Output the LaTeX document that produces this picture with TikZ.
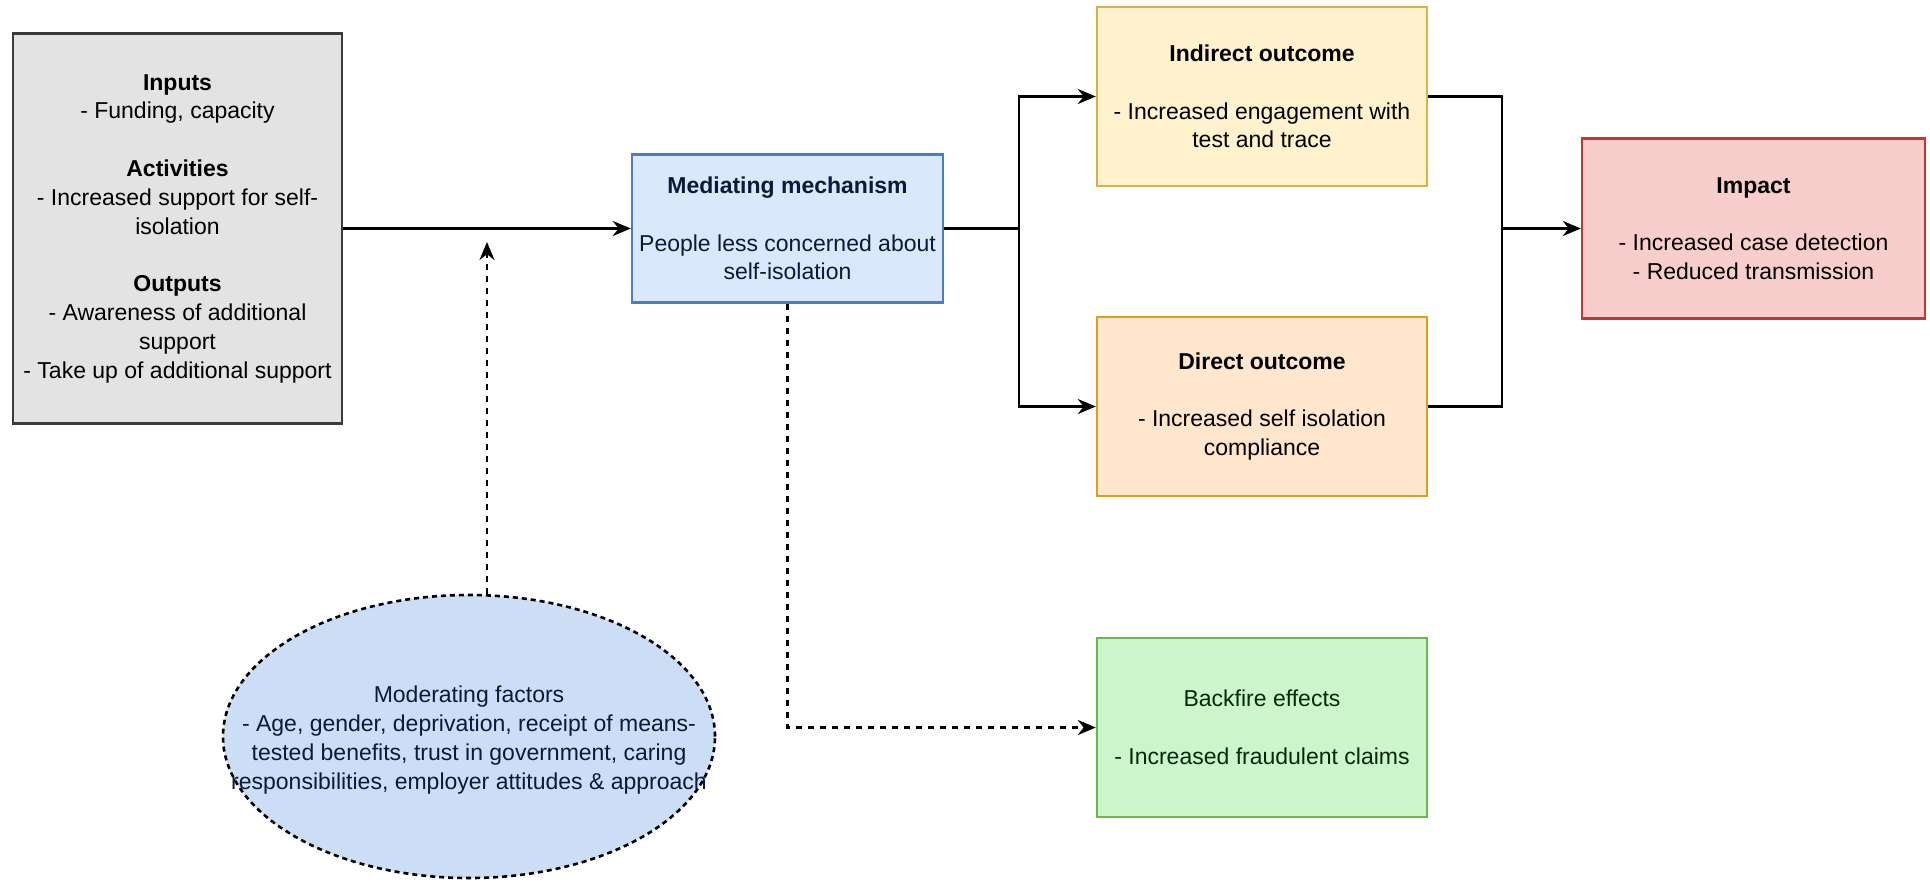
\documentclass[tikz,border=0pt]{standalone}
\usepackage{fontspec}
\setmainfont{Liberation Sans}
\usetikzlibrary{arrows.meta,shapes.geometric}
\definecolor{grayfill}{HTML}{E3E3E3}
\definecolor{graydraw}{HTML}{3A3A3A}
\definecolor{medfill}{HTML}{DAE8FC}
\definecolor{meddraw}{HTML}{4A7EC0}
\definecolor{medtext}{HTML}{0A1A38}
\definecolor{indfill}{HTML}{FFF2CC}
\definecolor{inddraw}{HTML}{D6B24A}
\definecolor{dirfill}{HTML}{FFE6CC}
\definecolor{dirdraw}{HTML}{D9A020}
\definecolor{impfill}{HTML}{F8CECC}
\definecolor{impdraw}{HTML}{CC3333}
\definecolor{backfill}{HTML}{CCF5CC}
\definecolor{backdraw}{HTML}{66BB44}
\definecolor{backtext}{HTML}{0A260A}
\definecolor{ellfill}{HTML}{CCDEF6}
\begin{document}
\begin{tikzpicture}[x=0.5pt,y=-0.5pt,
  font=\fontsize{11.5}{14.4}\selectfont,
  box/.style={draw, line width=1.2pt, rectangle, align=center, inner sep=0pt},
  conn/.style={line width=1.3pt, black},
  arr/.style={conn, -{Stealth[length=9pt,width=7.5pt]}},
  dasharr/.style={line width=1.4pt, black, dash pattern=on 3pt off 3pt, -{Stealth[length=9pt,width=7.5pt]}}
]
\fill[white] (0,0) rectangle (1930,884);
\useasboundingbox (0,0) rectangle (1930,884);

\node[box, fill=grayfill, draw=graydraw, minimum width=164.5pt, minimum height=195pt] (inp) at (177.5,228.5)
 {\textbf{Inputs}\\- Funding, capacity\\[14.4pt]\textbf{Activities}\\- Increased support for self-\\isolation\\[14.4pt]\textbf{Outputs}\\- Awareness of additional\\support\\- Take up of additional support};

\node[box, fill=medfill, draw=meddraw, text=medtext, minimum width=155.5pt, minimum height=74pt] (med) at (787.5,228.5)
 {\textbf{Mediating mechanism}\\[14.4pt]People less concerned about\\self-isolation};

\node[box, fill=indfill, draw=inddraw, minimum width=165pt, minimum height=89.5pt] (ind) at (1262,96.5)
 {\textbf{Indirect outcome}\\[14.4pt]- Increased engagement with\\test and trace};

\node[box, fill=dirfill, draw=dirdraw, minimum width=165pt, minimum height=89.5pt] (dir) at (1262,406.5)
 {\textbf{Direct outcome}\\[14.4pt]- Increased self isolation\\compliance};

\node[box, fill=impfill, draw=impdraw, minimum width=171.5pt, minimum height=90pt] (imp) at (1753.5,228.5)
 {\textbf{Impact}\\[14.4pt]- Increased case detection\\- Reduced transmission};

\node[box, fill=backfill, draw=backdraw, text=backtext, minimum width=165pt, minimum height=89.5pt] (back) at (1262,727.5)
 {Backfire effects\\[14.4pt]- Increased fraudulent claims};

\node[ellipse, draw=black, fill=ellfill, line width=1.3pt, dash pattern=on 2.5pt off 2pt, minimum width=246pt, minimum height=141.5pt, inner sep=0pt] (mf) at (469,736.5) {};
\node[align=center, text=medtext, inner sep=0pt] (mft) at (469,740)
 {Moderating factors\\- Age, gender, deprivation, receipt of means-\\tested benefits, trust in government, caring\\responsibilities, employer attitudes \& approach};

% connectors
\draw[arr] (inp.east) -- (med.west);
\coordinate (mtip) at (487,242);
\draw[dasharr] (mf.north -| mtip) -- (mtip);

\coordinate (split) at (1019,228.5);
\draw[conn] (med.east) -- (split);
\draw[arr] (split) |- (ind.west);
\draw[arr] (split) |- (dir.west);

\coordinate (merge) at (1502,228.5);
\draw[conn] (ind.east) -| (merge);
\draw[conn] (dir.east) -| (merge);
\draw[arr] (merge) -- (imp.west);

\draw[dasharr] (med.south) |- (back.west);
\end{tikzpicture}
\end{document}
